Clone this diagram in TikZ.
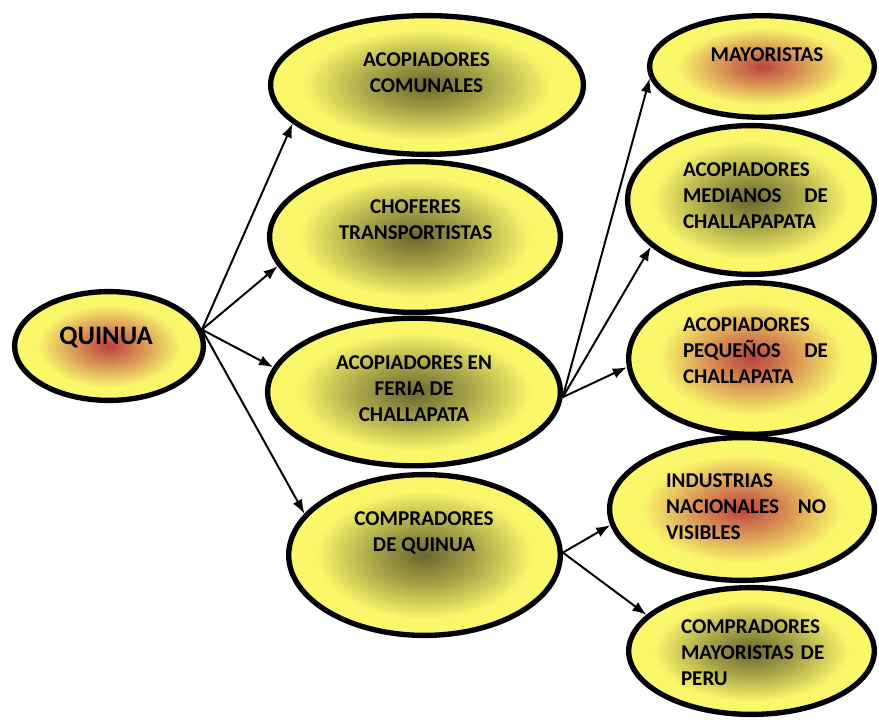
\documentclass[tikz,border=0pt]{standalone}
\usepackage{fontspec}
\setmainfont{Carlito}
\usepackage{tikz}
\usetikzlibrary{arrows.meta}
\usetikzlibrary{shapes.geometric}
\definecolor{myellow}{rgb}{0.98, 0.97, 0.42}
\definecolor{molive}{rgb}{0.42, 0.40, 0.18}
\definecolor{mred}{rgb}{0.74, 0.26, 0.26}
\colorlet{molivehalf}{molive!60!myellow}
\colorlet{mredhalf}{mred!60!myellow}
\pgfdeclareradialshading{olivespot}{\pgfpoint{0bp}{0bp}}{color(0bp)=(molive); color(9bp)=(molivehalf); color(20bp)=(myellow); color(50bp)=(myellow)}
\pgfdeclareradialshading{redspot}{\pgfpoint{0bp}{0bp}}{color(0bp)=(mred); color(8bp)=(mredhalf); color(19bp)=(myellow); color(50bp)=(myellow)}

\begin{document}
\begin{tikzpicture}[
    bubble/.style={ellipse, draw=black, line width=3.8pt, shade, shading=olivespot, inner sep=0pt},
    redbubble/.style={bubble, shading=redspot},
    txt/.style={font=\fontsize{15}{18.5}\selectfont\bfseries, inner sep=0pt},
    link/.style={-{Latex[length=10pt, width=7.5pt]}, line width=1.4pt}]

    \useasboundingbox (0, 0) rectangle (21.975, 17.975);

    \node [redbubble, minimum width=4.72cm, minimum height=2.72cm] (quinua) at (2.725, 9.325) {};
    \node [bubble, minimum width=7.82cm, minimum height=3.47cm] (comunales) at (10.675, 15.85) {};
    \node [bubble, minimum width=7.27cm, minimum height=3.77cm] (choferes) at (10.375, 12.05) {};
    \node [bubble, minimum width=7.32cm, minimum height=3.69cm] (feria) at (10.35, 8.175) {};
    \node [bubble, minimum width=6.79cm, minimum height=4.02cm] (compradores) at (10.6125, 4.1) {};
    \node [redbubble, minimum width=5.62cm, minimum height=2.54cm] (mayoristas) at (19.05, 16.3125) {};
    \node [bubble, minimum width=6.17cm, minimum height=3.72cm] (medianos) at (18.775, 12.975) {};
    \node [redbubble, minimum width=6.14cm, minimum height=3.79cm] (pequenos) at (18.7875, 9.0125) {};
    \node [redbubble, minimum width=6.62cm, minimum height=3.57cm] (industrias) at (18.55, 5.25) {};
    \node [bubble, minimum width=6.14cm, minimum height=3.17cm] (peru) at (18.7875, 1.7) {};

    \node [txt, font=\fontsize{19}{23}\selectfont\bfseries] (quinua-text) at (2.65, 9.55) {QUINUA};
    \node [txt, align=center] (comunales-text) at (10.6625, 16.1625) {ACOPIADORES\\ COMUNALES};
    \node [txt, align=center] (choferes-text) at (10.3875, 12.4875) {CHOFERES\\ TRANSPORTISTAS};
    \node [txt, align=center] (feria-text) at (10.35, 8.2625) {ACOPIADORES EN\\ FERIA DE\\ CHALLAPATA};
    \node [txt, align=center] (compradores-text) at (10.6, 4.65) {COMPRADORES\\ DE QUINUA};
    \node [txt] (mayoristas-text) at (19.175, 16.6) {MAYORISTAS};
    \node [txt, align=left, text width=3.625cm] (medianos-text) at (18.8875, 13.075) {ACOPIADORES\\ MEDIANOS\hfill DE\\ CHALLAPAPATA};
    \node [txt, align=left, text width=3.625cm] (pequenos-text) at (18.8875, 9.2) {ACOPIADORES\\ PEQUEÑOS\hfill DE\\ CHALLAPATA};
    \node [txt, align=left, text width=4cm] (industrias-text) at (18.65, 5.3) {INDUSTRIAS\\ NACIONALES\hfill NO\\ VISIBLES};
    \node [txt, align=left, text width=3.675cm] (peru-text) at (18.8625, 1.65) {COMPRADORES\\ MAYORISTAS DE\\ PERU};

    \draw [link] (quinua.10) -- (comunales.196);
    \draw [link] (quinua.10) -- (choferes.192);
    \draw [link] (quinua.10) -- (feria.170);
    \draw [link] (quinua.10) -- (compradores.161);

    \draw [link] (feria.358) -- (mayoristas.186);
    \draw [link] (feria.358) -- (medianos.205);
    \draw [link] (feria.358) -- (pequenos.184);

    \draw [link] (compradores.1) -- (industrias.187);
    \draw [link] (compradores.1) -- (peru.161);
\end{tikzpicture}
\end{document}
